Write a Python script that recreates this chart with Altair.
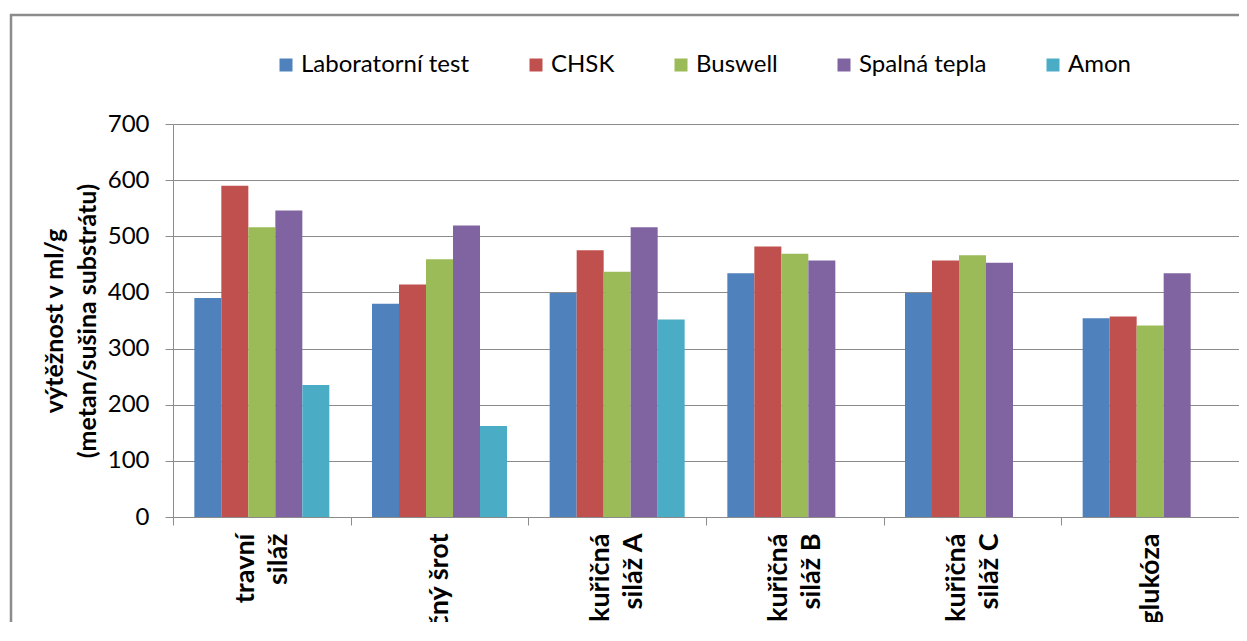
import altair as alt
import pandas as pd

categories = ["travní\nsiláž", "ječný šrot", "kukuřičná\nsiláž A",
              "kukuřičná\nsiláž B", "kukuřičná\nsiláž C", "glukóza"]
series = ["Laboratorní test", "CHSK", "Buswell", "Spalná tepla", "Amon"]
lab = [390, 380, 399, 434, 399, 354]
chsk = [590, 414, 475, 482, 457, 357]
buswell = [516, 459, 437, 469, 466, 341]
spalna = [546, 519, 516, 457, 453, 434]
amon = [235, 162, 352, None, None, None]
colors = ["#4F81BD", "#C0504D", "#9BBB59", "#8064A2", "#4BACC6"]
y_ticks = [0, 100, 200, 300, 400, 500, 600, 700]
y_title = ["výtěžnost v ml/g", "(metan/sušina substrátu)"]

rows = []
for s, vals in zip(series, [lab, chsk, buswell, spalna, amon]):
    for c, v in zip(categories, vals):
        if v is not None:
            rows.append({"kategorie": c, "rada": s, "hodnota": v})
df = pd.DataFrame(rows)

FONT = "Lato"
GRAY = "#8C8C8C"
W, H = 1066, 393
LH = 33
HALF = LH / 2
SP = "\u2800"  # blank spacer line (not stripped by trim())

# two-line labels -> [line1, spacer, line2]; single-line -> [spacer, label]
# (with half line height and a constant offset, both end up centred on the band)
label_expr = (
    "length(split(datum.label, '\\n')) > 1 ? "
    f"[split(datum.label, '\\n')[0], '{SP}', split(datum.label, '\\n')[1]] : "
    "['', datum.label]"
)

bars = alt.Chart(df).mark_bar().encode(
    x=alt.X(
        "kategorie:N", sort=categories,
        scale=alt.Scale(paddingInner=0, paddingOuter=0),
        axis=alt.Axis(
            title=None, labelAngle=270, labelAlign="right", labelBaseline="middle",
            labelExpr=label_expr, labelFont=FONT,
            labelFontWeight="bold", labelFontSize=27, labelLineHeight=HALF,
            labelOffset=-HALF,
            labelPadding=8, labelColor="black", labelLimit=0, labelOverlap=False,
            tickBand="extent", tickSize=8, tickColor=GRAY, tickWidth=1,
            domainColor=GRAY, domainWidth=1, grid=False,
        ),
    ),
    xOffset=alt.XOffset("rada:N", sort=series,
                        scale=alt.Scale(domain=series, paddingInner=0, paddingOuter=0.79)),
    y=alt.Y(
        "hodnota:Q", scale=alt.Scale(domain=[0, 700], nice=False),
        axis=alt.Axis(
            values=y_ticks, title=y_title, grid=True, gridColor=GRAY, gridWidth=1,
            domainColor=GRAY, domainWidth=1, tickColor=GRAY, tickSize=8,
            labelFont=FONT, labelFontSize=24, labelColor="black", labelPadding=16,
            titleFont=FONT, titleFontWeight="bold", titleFontSize=25,
            titleLineHeight=LH, titleAngle=270, titleX=-106, titleY=H / 2,
            titleAlign="center", titleBaseline="bottom", titleColor="black",
        ),
    ),
    color=alt.Color(
        "rada:N", sort=series,
        scale=alt.Scale(domain=series, range=colors),
        legend=alt.Legend(
            title=None, orient="none", legendX=101, legendY=-71,
            direction="horizontal", columns=5, symbolType="square",
            symbolSize=169, symbolStrokeWidth=0, labelFont=FONT,
            labelFontSize=24, labelColor="black", labelOffset=3,
            columnPadding=54, labelLimit=0,
        ),
    ),
)

frame_df = pd.DataFrame({"k": [0]})
frame_top = alt.Chart(frame_df).mark_rule(color=GRAY, strokeWidth=2.5).encode(
    x=alt.value(-163), x2=alt.value(W + 50), y=alt.value(-109)
)
frame_left = alt.Chart(frame_df).mark_rule(color=GRAY, strokeWidth=2.5).encode(
    x=alt.value(-162), y=alt.value(-110), y2=alt.value(H + 200)
)

chart = alt.layer(frame_top, frame_left, bars).properties(
    width=W, height=H,
    autosize=alt.AutoSizeParams(type="none"),
    padding={"left": 165, "top": 116, "right": 0, "bottom": 105},
    background="white",
).configure_view(stroke=None)

chart.save("out.html", embed_options={"renderer": "svg", "actions": False})
